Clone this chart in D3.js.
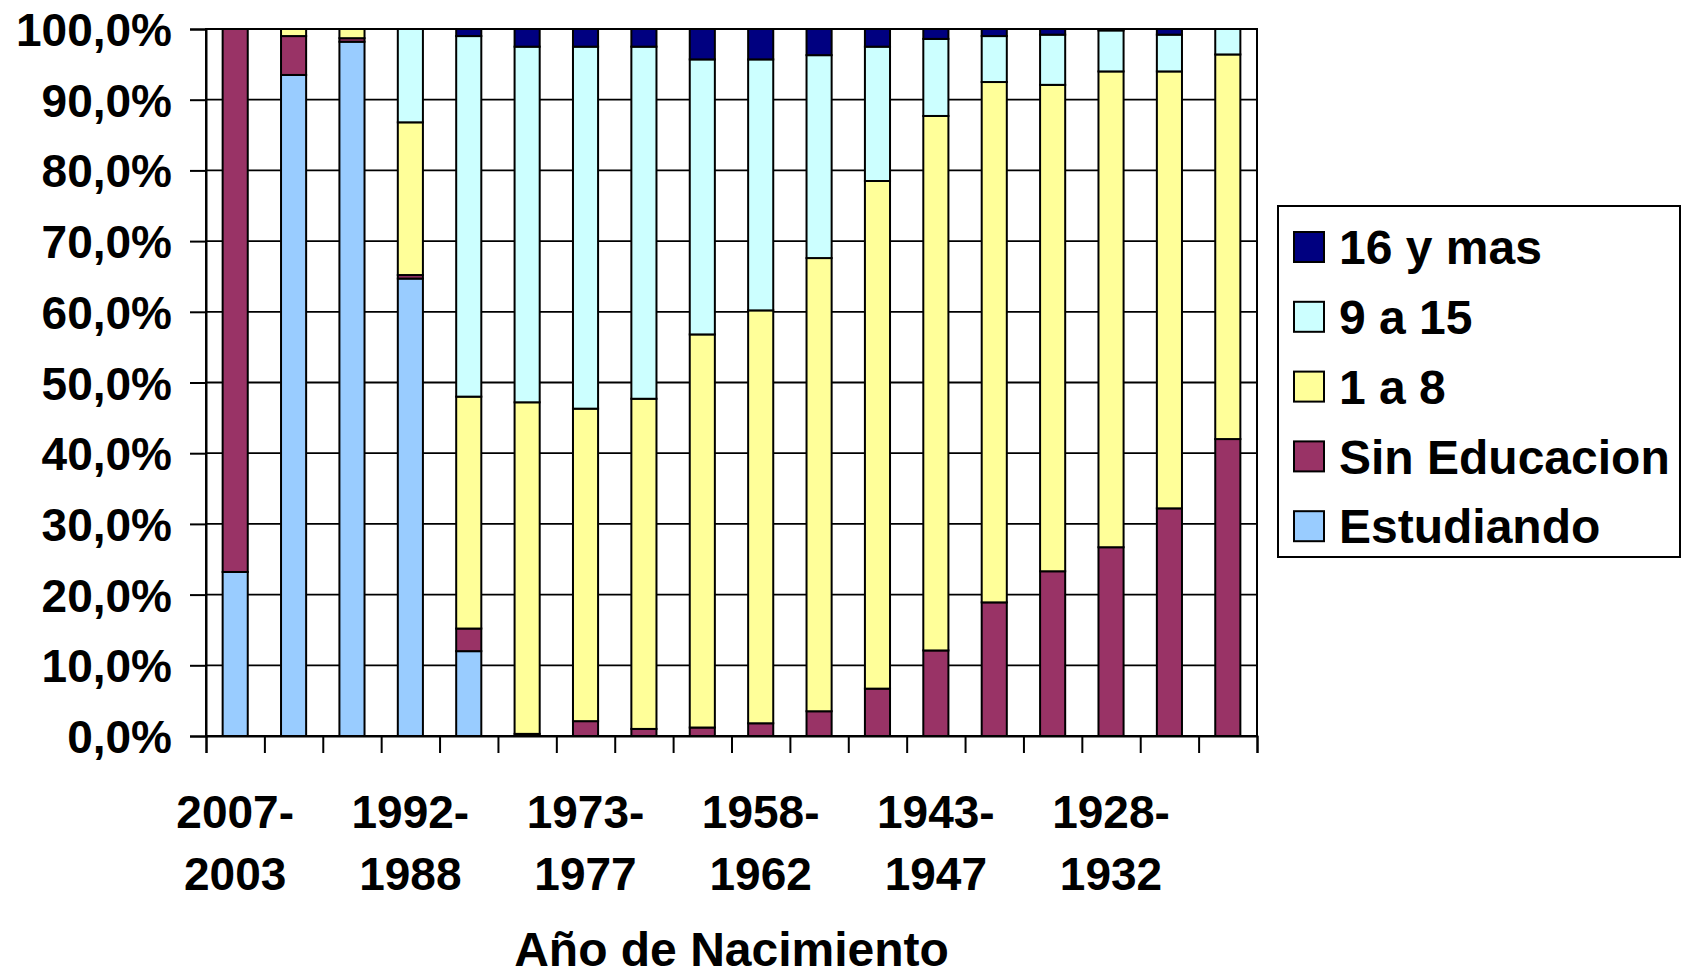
<!DOCTYPE html>
<html>
<head>
<meta charset="utf-8">
<script src="https://cdn.jsdelivr.net/npm/d3@7"></script>
<style>
  html, body { margin: 0; padding: 0; background: #fff; }
  svg text { font-family: "Liberation Sans", Arial, Helvetica, sans-serif; font-weight: bold; fill: #000; }
</style>
</head>
<body>
<svg id="chart" width="1684" height="978"></svg>
<script>
// ---- data ----
const categories = ["2007-2003","2002-1998","1997-1993","1992-1988","1987-1983","1982-1978",
  "1973-1977","1968-1972","1963-1967","1958-1962","1953-1957","1948-1952",
  "1943-1947","1938-1942","1933-1937","1928-1932","1923-1927","1918-1922"];
const labeledCategories = ["2007-2003","1992-1988","1973-1977","1958-1962","1943-1947","1928-1932"];
const seriesNames = ["Estudiando","Sin Educacion","1 a 8","9 a 15","16 y mas"];
const estudiando   = [23.2, 93.5, 98.2, 64.7, 12.0, 0, 0, 0, 0, 0, 0, 0, 0, 0, 0, 0, 0, 0];
const sinEducacion = [76.8, 5.5, 0.5, 0.5, 3.2, 0.3, 2.1, 1.0, 1.2, 1.8, 3.5, 6.7, 12.1, 18.9, 23.3, 26.7, 32.2, 42.0];
const unoA8        = [0, 1.0, 1.3, 21.6, 32.8, 46.9, 44.2, 46.7, 55.6, 58.4, 64.1, 71.8, 75.6, 73.6, 68.8, 67.3, 61.8, 54.4];
const nueveA15     = [0, 0, 0, 13.2, 51.0, 50.3, 51.2, 49.8, 38.9, 35.5, 28.7, 19.0, 10.9, 6.5, 7.1, 5.8, 5.2, 3.6];
const dieciseisMas = [0, 0, 0, 0, 1.0, 2.5, 2.5, 2.5, 4.3, 4.3, 3.7, 2.5, 1.4, 1.0, 0.8, 0.2, 0.8, 0];
const yTicks = [0,10,20,30,40,50,60,70,80,90,100];
const xTitle = "Año de Nacimiento";
const colors = ["#99CCFF","#993366","#FFFF99","#CCFFFF","#000080"];

// ---- build table ----
const seriesArrays = [estudiando, sinEducacion, unoA8, nueveA15, dieciseisMas];
const table = categories.map((c, i) => {
  const row = { cat: c };
  seriesNames.forEach((s, k) => row[s] = seriesArrays[k][i]);
  return row;
});
const stacked = d3.stack().keys(seriesNames)(table);

const svg = d3.select("#chart");
const L = 206, R = 1257, T = 29, B = 736;

const x = d3.scaleBand().domain(categories).range([L, R]).paddingInner(0.57).paddingOuter(0.285);
const xEdge = d3.scaleLinear().domain([0, categories.length]).range([L, R]);
const y = d3.scaleLinear().domain([0, 100]).range([B, T]);
const color = d3.scaleOrdinal().domain(seriesNames).range(colors);

// gridlines
svg.append("g").selectAll("line").data(yTicks).join("line")
  .attr("x1", L).attr("x2", R)
  .attr("y1", d => y(d)).attr("y2", d => y(d))
  .attr("stroke", "#000").attr("stroke-width", 1.8);

// bars
svg.append("g").selectAll("g").data(stacked).join("g")
  .attr("fill", d => color(d.key))
  .selectAll("rect").data(d => d.filter(p => p[1] - p[0] > 0)).join("rect")
  .attr("x", d => x(d.data.cat))
  .attr("width", x.bandwidth())
  .attr("y", d => y(d[1]))
  .attr("height", d => y(d[0]) - y(d[1]))
  .attr("stroke", "#000").attr("stroke-width", 2);

// plot border
svg.append("rect").attr("x", L).attr("y", T).attr("width", R - L).attr("height", B - T)
  .attr("fill", "none").attr("stroke", "#000").attr("stroke-width", 2);

// y axis
const yAxis = svg.append("g").attr("transform", `translate(${L},0)`)
  .call(d3.axisLeft(y).tickValues(yTicks).tickSize(16).tickPadding(18)
    .tickFormat(d => d.toFixed(1).replace(".", ",") + "%"));
yAxis.select(".domain").attr("stroke", "#000").attr("stroke-width", 2);
yAxis.selectAll(".tick line").attr("stroke", "#000").attr("stroke-width", 2);
yAxis.selectAll(".tick text").attr("font-size", 46).attr("dy", "0.36em")
  .style("font-family", "'Liberation Sans', Arial, sans-serif").style("font-weight", "bold");

// x axis ticks at category boundaries
const xAxis = svg.append("g").attr("transform", `translate(0,${B})`)
  .call(d3.axisBottom(xEdge).tickValues(d3.range(0, categories.length + 1)).tickSize(17).tickFormat(""));
xAxis.select(".domain").attr("stroke", "#000").attr("stroke-width", 2);
xAxis.selectAll(".tick line").attr("stroke", "#000").attr("stroke-width", 2);

// x labels
const xl = svg.append("g").selectAll("text").data(labeledCategories).join("text")
  .attr("text-anchor", "middle")
  .attr("font-size", 46);
xl.append("tspan")
  .attr("x", d => x(d) + x.bandwidth() / 2).attr("y", 828)
  .text(d => d.split("-")[0] + "-");
xl.append("tspan")
  .attr("x", d => x(d) + x.bandwidth() / 2).attr("y", 890)
  .text(d => d.split("-")[1]);

// x title
svg.append("text").attr("x", (L + R) / 2).attr("y", 966).attr("text-anchor", "middle")
  .attr("font-size", 48).text(xTitle);

// legend
const lg = svg.append("g");
lg.append("rect").attr("x", 1278).attr("y", 206).attr("width", 402).attr("height", 351)
  .attr("fill", "#fff").attr("stroke", "#000").attr("stroke-width", 2);
const legendOrder = seriesNames.slice().reverse();
const items = lg.selectAll("g.item").data(legendOrder).join("g").attr("class", "item")
  .attr("transform", (d, i) => `translate(1294,${247 + i * 69.8})`);
items.append("rect").attr("x", 0).attr("y", -15).attr("width", 30).attr("height", 30)
  .attr("fill", d => color(d)).attr("stroke", "#000").attr("stroke-width", 2);
items.append("text").attr("x", 45).attr("y", 0).attr("dy", "0.36em")
  .attr("font-size", 48).text(d => d);
</script>
</body>
</html>
